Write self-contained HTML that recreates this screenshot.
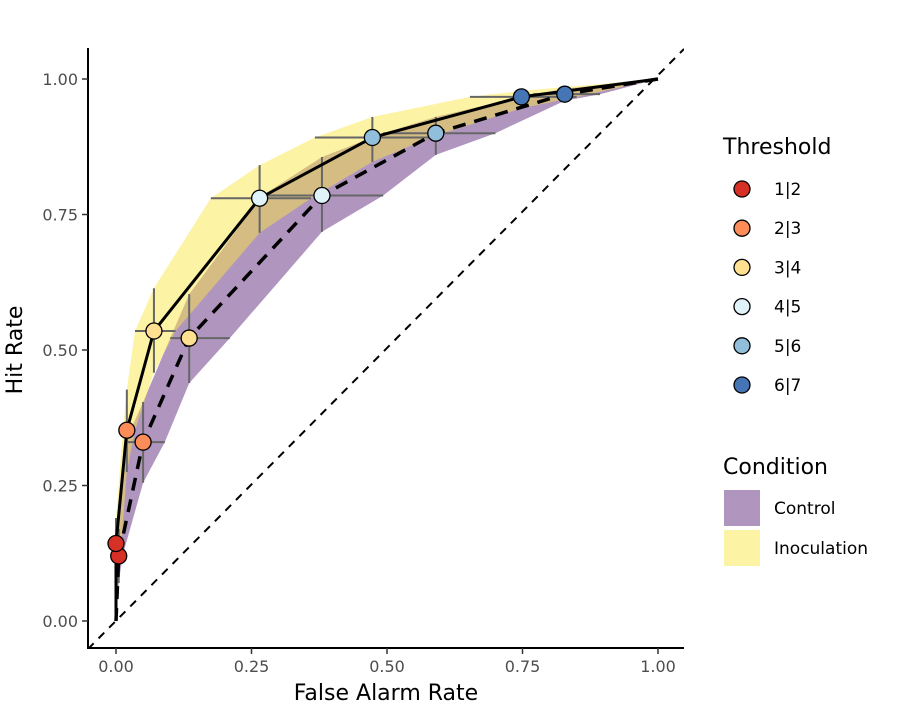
<!DOCTYPE html>
<html><head><meta charset="utf-8"><style>
html,body{margin:0;padding:0;background:#fff;width:901px;height:718px;overflow:hidden}
svg{display:block;font-family:"DejaVu Sans","Liberation Sans",sans-serif}
</style></head><body>
<svg id="chart" width="901" height="718" viewBox="0 0 901 718">
<defs><clipPath id="pc"><rect x="88" y="48" width="596" height="600"/></clipPath></defs>
<g id="bands" clip-path="url(#pc)"></g>
<line x1="88" y1="649" x2="684" y2="49" stroke="#000" stroke-width="2" stroke-dasharray="8,7" clip-path="url(#pc)"/>
<g id="errs"></g>
<g id="lines"></g>
<g id="pts"></g>
<g id="axes"></g>
<g font-size="17" fill="#000">
<text x="723" y="154" font-size="22">Threshold</text>
<g id="leg"></g>
<text x="723" y="474" font-size="22">Condition</text>
<rect x="724" y="490" width="36" height="36" fill="#b096be"/>
<text x="774" y="514">Control</text>
<rect x="724" y="530" width="36" height="36" fill="#fdf3a5"/>
<text x="774" y="554">Inoculation</text>
</g>
</svg>
<script>
const thresholds=["1|2","2|3","3|4","4|5","5|6","6|7"];
const colors=["#d73027","#fc8d59","#fee090","#e0f3f8","#91bfdb","#4575b4"];
const inocX=[0.0,0.02,0.07,0.265,0.473,0.748];
const inocY=[0.143,0.352,0.535,0.78,0.892,0.967];
const inocXlo=[0.0,0.013,0.035,0.175,0.367,0.653];
const inocXhi=[0.01,0.035,0.11,0.36,0.58,0.85];
const inocYlo=[0.10,0.275,0.458,0.716,0.847,0.946];
const inocYhi=[0.19,0.427,0.614,0.841,0.93,0.978];
const ctrlX=[0.005,0.05,0.135,0.38,0.59,0.828];
const ctrlY=[0.12,0.33,0.522,0.785,0.90,0.972];
const ctrlXlo=[0.0,0.017,0.10,0.27,0.493,0.77];
const ctrlXhi=[0.012,0.09,0.21,0.493,0.70,0.893];
const ctrlYlo=[0.07,0.255,0.439,0.718,0.86,0.96];
const ctrlYhi=[0.17,0.404,0.603,0.856,0.93,0.982];
const xTicks=[0,0.25,0.5,0.75,1];
const xTickLabels=["0.00","0.25","0.50","0.75","1.00"];
const yTicks=[0,0.25,0.5,0.75,1];
const yTickLabels=["0.00","0.25","0.50","0.75","1.00"];

const sx=v=>116+v*542, sy=v=>621-v*542;
const NS="http://www.w3.org/2000/svg";
function mk(tag,attrs,parent){const e=document.createElementNS(NS,tag);for(const k in attrs)e.setAttribute(k,attrs[k]);parent.appendChild(e);return e;}
function band(X,Y,Xlo,Xhi,Ylo,Yhi){
  let up=[[0,0]],lo=[];
  for(let i=0;i<X.length;i++){up.push([Xlo[i],Y[i]]);up.push([X[i],Yhi[i]]);lo.push([X[i],Ylo[i]]);lo.push([Xhi[i],Y[i]]);}
  up.push([1,1]);lo.reverse();lo.push([0,0]);
  return up.concat(lo).map(p=>sx(p[0]).toFixed(1)+","+sy(p[1]).toFixed(1)).join(" ");
}
const bands=document.getElementById('bands');
let b1=mk('polygon',{points:band(ctrlX,ctrlY,ctrlXlo,ctrlXhi,ctrlYlo,ctrlYhi),fill:"#5a2478","fill-opacity":0.48},bands);


let b2=mk('polygon',{points:band(inocX,inocY,inocXlo,inocXhi,inocYlo,inocYhi),fill:"#fbe643","fill-opacity":0.48},bands);



const errs=document.getElementById('errs');
function eb(X,Y,Xlo,Xhi,Ylo,Yhi,nm){
  for(let i=0;i<X.length;i++){
    let h=mk('line',{x1:sx(Xlo[i]),x2:sx(Xhi[i]),y1:sy(Y[i]),y2:sy(Y[i]),stroke:"#666",'stroke-width':2},errs);
    
    
    let v=mk('line',{x1:sx(X[i]),x2:sx(X[i]),y1:sy(Ylo[i]),y2:sy(Yhi[i]),stroke:"#666",'stroke-width':2},errs);
    
    
  }
}
eb(ctrlX,ctrlY,ctrlXlo,ctrlXhi,ctrlYlo,ctrlYhi,'control');
eb(inocX,inocY,inocXlo,inocXhi,inocYlo,inocYhi,'inoculation');

const lines=document.getElementById('lines');
function pl(X,Y){return [[0,0]].concat(X.map((x,i)=>[x,Y[i]])).concat([[1,1]]).map(p=>sx(p[0])+","+sy(p[1])).join(" ");}
let l1=mk('polyline',{points:pl(ctrlX,ctrlY),fill:"none",stroke:"#000",'stroke-width':3.5,'stroke-dasharray':"13,9"},lines);


let l2=mk('polyline',{points:pl(inocX,inocY),fill:"none",stroke:"#000",'stroke-width':3},lines);



const pts=document.getElementById('pts');
function dots(X,Y,nm){
  for(let i=0;i<X.length;i++){
    let c=mk('circle',{cx:sx(X[i]),cy:sy(Y[i]),r:8,fill:colors[i],stroke:"#000",'stroke-width':1.3},pts);
    
    
  }
}
dots(ctrlX,ctrlY,'control');
dots(inocX,inocY,'inoculation');

const ax=document.getElementById('axes');
let ya=mk('line',{x1:88,x2:88,y1:48,y2:649,stroke:"#000",'stroke-width':2},ax);


let xa=mk('line',{x1:87,x2:684,y1:648,y2:648,stroke:"#000",'stroke-width':2},ax);


xTicks.forEach((t,i)=>{
  let tk=mk('line',{x1:sx(t),x2:sx(t),y1:648,y2:654,stroke:"#333",'stroke-width':1.5},ax);
  
  
  let tx=mk('text',{x:sx(t),y:672,'text-anchor':'middle','font-size':16,fill:'#4d4d4d'},ax);
  tx.textContent=xTickLabels[i];
  
  
});
yTicks.forEach((t,i)=>{
  let tk=mk('line',{x1:82,x2:88,y1:sy(t),y2:sy(t),stroke:"#333",'stroke-width':1.5},ax);
  
  
  let tx=mk('text',{x:78,y:sy(t)+6,'text-anchor':'end','font-size':16,fill:'#4d4d4d'},ax);
  tx.textContent=yTickLabels[i];
  
  
});
let xt=mk('text',{x:386,y:700,'text-anchor':'middle','font-size':22,fill:'#000'},ax);
xt.textContent="False Alarm Rate";


let yt=mk('text',{x:0,y:0,'text-anchor':'middle','font-size':22,fill:'#000',transform:'translate(22,350) rotate(-90)'},ax);
yt.textContent="Hit Rate";



const leg=document.getElementById('leg');
thresholds.forEach((t,i)=>{
  const y=189+i*39.2;
  let c=mk('circle',{cx:742,cy:y,r:8,fill:colors[i],stroke:"#000",'stroke-width':1.3},leg);
  
  
  let tx=mk('text',{x:774,y:y+6,'font-size':17},leg);
  tx.textContent=t;
  
  
});
</script>
</body></html>
